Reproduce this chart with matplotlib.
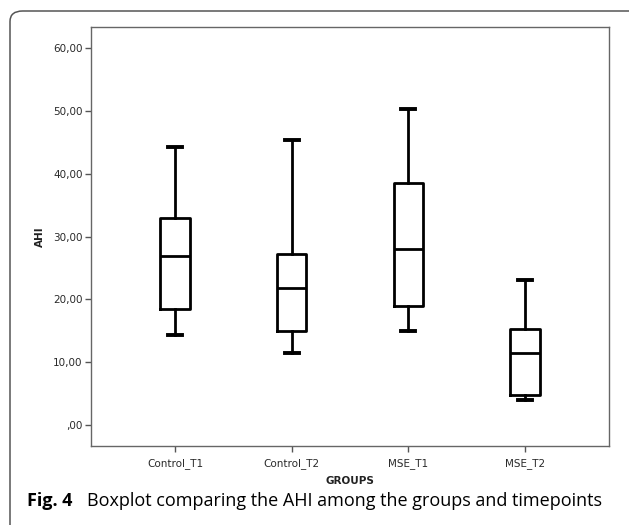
import matplotlib
matplotlib.use('Agg')
import matplotlib.pyplot as plt
from matplotlib.patches import FancyBboxPatch

# data
groups = ['Control_T1', 'Control_T2', 'MSE_T1', 'MSE_T2']
whisker_low = [14.3, 11.4, 14.9, 3.9]
q1 = [18.5, 14.9, 18.9, 4.7]
median = [26.9, 21.8, 28.0, 11.4]
q3 = [33.0, 27.2, 38.6, 15.2]
whisker_high = [44.3, 45.4, 50.4, 23.1]
y_ticks = [0, 10, 20, 30, 40, 50, 60]
y_tick_labels = [',00', '10,00', '20,00', '30,00', '40,00', '50,00', '60,00']


def main():
	''' draw the SPSS style boxplot'''

	fig = plt.figure(figsize=(6.29, 5.25), dpi=100)

	# outer rounded frame of the figure panel
	frame = FancyBboxPatch((10 / 629, -20 / 525), 640 / 629, 534 / 525,
		boxstyle='round,pad=0,rounding_size=0.02', transform=fig.transFigure,
		facecolor='none', edgecolor='#555555', linewidth=1.1, clip_on=False)
	fig.patches.append(frame)

	ax = fig.add_axes([91 / 629, 79 / 525, 518 / 629, 419 / 525])

	stats = []
	for i, name in enumerate(groups):
		stats.append({'label': name, 'whislo': whisker_low[i], 'q1': q1[i],
			'med': median[i], 'q3': q3[i], 'whishi': whisker_high[i], 'fliers': []})

	lw = 2.0
	ax.bxp(stats, positions=range(len(groups)), widths=0.25, showfliers=False,
		boxprops=dict(color='black', linewidth=lw),
		whiskerprops=dict(color='black', linewidth=lw),
		capprops=dict(color='black', linewidth=2.8),
		medianprops=dict(color='black', linewidth=lw),
		capwidths=0.12)

	ax.set_xlim(-0.72, 3.72)
	ax.set_ylim(-3.4, 63.4)

	ax.set_yticks(y_ticks)
	ax.set_yticklabels(y_tick_labels)
	ax.set_xticks(range(len(groups)))
	ax.set_xticklabels(groups)

	for s in ax.spines.values():
		s.set_color('#666666')
		s.set_linewidth(1.0)

	ax.tick_params(axis='both', direction='out', length=4, width=1, color='#555555',
		labelsize=7.5, labelcolor='#2a2a2a', pad=2)
	ax.tick_params(axis='x', pad=5)

	ax.set_ylabel('AHI', fontsize=7.5, fontweight='bold', color='#222222', labelpad=6)
	ax.set_xlabel('GROUPS', fontsize=7.5, fontweight='bold', color='#222222', labelpad=5)

	# caption
	fig.text(27 / 629, 19 / 525, 'Fig. 4', fontsize=13, fontweight='bold',
		family='Open Sans', va='baseline')
	fig.text(87 / 629, 19 / 525, 'Boxplot comparing the AHI among the groups and timepoints',
		fontsize=13, family='Open Sans', va='baseline')

	plt.savefig('out.png', dpi=100)


if __name__ == '__main__':
	main()
